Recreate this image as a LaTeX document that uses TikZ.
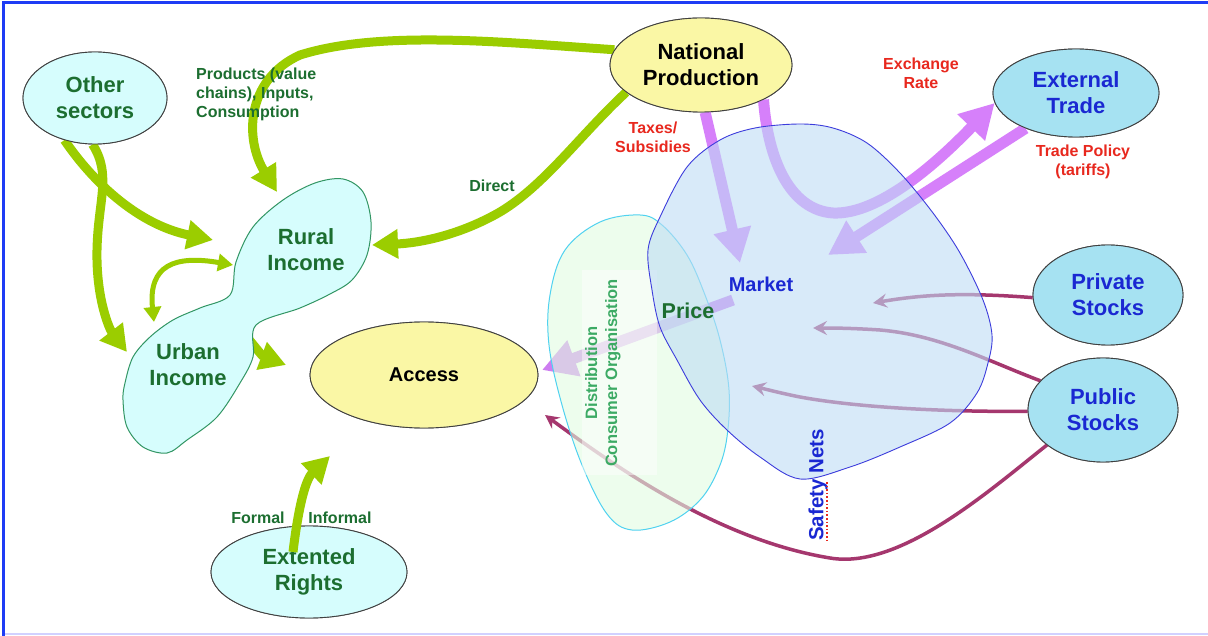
\documentclass[tikz,border=0pt]{standalone}
\usepackage{fontspec}
\setmainfont{Liberation Sans}
\usetikzlibrary{arrows.meta,shapes.geometric}
\definecolor{dgreen}{RGB}{28,110,48}
\definecolor{lgreen}{RGB}{60,170,100}
\definecolor{tred}{RGB}{232,40,30}
\definecolor{tblue}{RGB}{26,40,210}
\definecolor{garrow}{RGB}{155,205,0}
\definecolor{parrow}{RGB}{214,128,250}
\definecolor{pricearrow}{RGB}{205,125,240}
\definecolor{marrow}{RGB}{165,55,110}
\definecolor{cyanfill}{RGB}{214,253,253}
\definecolor{bluefill}{RGB}{166,226,242}
\definecolor{yelfill}{RGB}{250,247,165}
\definecolor{mktfill}{RGB}{190,220,245}
\definecolor{mktline}{RGB}{60,60,220}
\definecolor{distfill}{RGB}{225,252,225}
\definecolor{distline}{RGB}{80,210,240}
\definecolor{frameblue}{RGB}{30,60,245}
\definecolor{incline}{RGB}{50,150,100}
\begin{document}
\begin{tikzpicture}[x=1pt,y=-1pt,
  ell/.style={ellipse, draw=black!75, line width=0.9pt, inner sep=0pt, align=center,
     font=\bfseries\fontsize{22}{26}\selectfont},
  lbl/.style={font=\bfseries\fontsize{16}{19}\selectfont, align=center, inner sep=0pt},
  big/.style={font=\bfseries\fontsize{22}{26}\selectfont, align=center, inner sep=0pt},
  garr/.style={draw=garrow, line width=9pt, -{Triangle[width=28pt,length=26pt]}},
  gdbl/.style={draw=garrow, line width=5pt, {Triangle[width=17pt,length=15pt]}-{Triangle[width=17pt,length=15pt]}},
  parr/.style={draw=parrow, line width=11pt, -{Triangle[width=36pt,length=34pt]}},
  marr/.style={draw=marrow, line width=3.5pt, -{Stealth[width=14pt,length=14pt,inset=5pt]}}
]
\useasboundingbox (0,0) rectangle (1208,636);
\fill[white] (0,0) rectangle (1208,636);
\draw[blue!18, line width=2pt] (3,634) -- (1208,634);
\draw[frameblue, line width=3pt] (3,636) -- (3,2.5) -- (1208,2.5);

% named free ends
\coordinate (ruralTop) at (277,192);
\coordinate (ruralE) at (372,245);
\coordinate (ruralW) at (213,240);
\coordinate (urbanN) at (127,352);
\coordinate (ruralL) at (233,265);
\coordinate (urbanT) at (154,322);
\coordinate (neck) at (238,327);
\coordinate (accNW) at (286,365);
\coordinate (accS) at (330,456);
\coordinate (mktTop) at (740,263);
\coordinate (mktNE) at (828,255);
\coordinate (mktSrc) at (733,300);
\coordinate (accE) at (542,370);
\coordinate (accSE) at (545,415);
\coordinate (mktP) at (873,303);
\coordinate (mktQ) at (813,328);
\coordinate (mktR) at (752,386);

% nodes (defined first, drawn again on top later)
\path
  (95,98) node[ell, fill=cyanfill, minimum width=144pt, minimum height=92pt, text=dgreen] (os) {Other\\sectors}
  (701,65) node[ell, fill=yelfill, minimum width=182pt, minimum height=94pt] (np) {National\\Production}
  (1076,93) node[ell, fill=bluefill, minimum width=166pt, minimum height=88pt, text=tblue] (ext) {External\\Trade}
  (1108,295) node[ell, fill=bluefill, minimum width=150pt, minimum height=100pt, text=tblue] (priv) {Private\\Stocks}
  (1103,410) node[ell, fill=bluefill, minimum width=150pt, minimum height=104pt, text=tblue] (pub) {Public\\Stocks}
  (424,375) node[ell, fill=yelfill, minimum width=228pt, minimum height=106pt, font=\bfseries\fontsize{20}{24}\selectfont] (acc) {Access}
  (309,572) node[ell, fill=cyanfill, minimum width=196pt, minimum height=92pt, text=dgreen] (er) {Extented\\Rights};

% maroon arrows
\draw[marr] (priv.182) .. controls (960,292) and (920,295) .. (mktP);
\draw[marr] (pub.155) .. controls (990,362) and (940,335) .. (880,330) .. controls (850,328) and (830,328) .. (mktQ);
\draw[marr] (pub.181) .. controls (950,412) and (860,408) .. (800,397) .. controls (780,393) and (765,389) .. (mktR);
\draw[marr] (pub.212) .. controls (990,490) and (900,570) .. (830,558) .. controls (720,540) and (620,470) .. (accSE);

% purple arrows
\draw[parr] (np.275) -- (mktTop);
\draw[parr] (np.331) .. controls (768,160) and (790,210) .. (833,213) .. controls (880,215) and (940,160) .. (ext.187);
\draw[parr] (ext.215) -- (mktNE);
\draw[draw=pricearrow, line width=11pt, -{Triangle[width=36pt,length=34pt]}] (mktSrc) -- (accE);

% green arrows
\draw[garr] (np.170) .. controls (500,42) and (380,30) .. (300,55) .. controls (245,80) and (245,140) .. (ruralTop);
\draw[garr] (np.200) .. controls (580,135) and (545,185) .. (500,212) .. controls (460,235) and (420,243) .. (ruralE);
\draw[garr] (os.234) .. controls (95,185) and (140,225) .. (ruralW);
\draw[garr] (os.267) .. controls (112,175) and (98,200) .. (97,250) .. controls (96,300) and (110,330) .. (urbanN);
\draw[gdbl] (urbanT) .. controls (148,265) and (175,255) .. (ruralL);
\draw[garr] (neck) .. controls (250,340) and (262,356) .. (accNW);

% redraw nodes on top of connector starts
\path
  (95,98) node[ell, fill=cyanfill, minimum width=144pt, minimum height=92pt, text=dgreen] (os2) {Other\\sectors}
  (701,65) node[ell, fill=yelfill, minimum width=182pt, minimum height=94pt] (np2) {National\\Production}
  (1076,93) node[ell, fill=bluefill, minimum width=166pt, minimum height=88pt, text=tblue] (ext2) {External\\Trade}
  (1108,295) node[ell, fill=bluefill, minimum width=150pt, minimum height=100pt, text=tblue] (priv2) {Private\\Stocks}
  (1103,410) node[ell, fill=bluefill, minimum width=150pt, minimum height=104pt, text=tblue] (pub2) {Public\\Stocks}
  (424,375) node[ell, fill=yelfill, minimum width=228pt, minimum height=106pt, font=\bfseries\fontsize{20}{24}\selectfont] (acc2) {Access}
  (309,572) node[ell, fill=cyanfill, minimum width=196pt, minimum height=92pt, text=dgreen] (er2) {Extented\\Rights};

% distribution blob
\path[fill=distfill, fill opacity=0.6, draw=distline, line width=1pt]
  plot[smooth cycle, tension=0.6] coordinates {(640,215) (662,225) (687,255) (705,295) (720,340) (729,390) (727,437) (718,470) (700,500) (670,522) (632,530) (607,514) (582,465) (562,405) (549,345) (550,295) (565,250) (600,222)};
\fill[white, fill opacity=0.45] (582,270) rectangle (657,475);

% market blob
\path[fill=mktfill, fill opacity=0.6, draw=mktline, line width=0.9pt]
  plot[smooth cycle, tension=0.55] coordinates {(800,124) (833,128) (867,143) (900,173) (933,213) (960,253) (983,300) (992,335) (988,363) (977,393) (950,423) (900,447) (850,467) (800,479) (760,457) (727,430) (700,400) (677,360) (660,327) (652,290) (648,250) (660,217) (687,167) (720,140) (755,128)};

% rural / urban income blob
\path[fill=cyanfill, draw=incline, line width=1pt]
  plot[smooth cycle, tension=0.55] coordinates {(230,295) (236,262) (253,227) (283,200) (315,183) (343,179) (363,192) (371,222) (367,255) (352,280) (330,294) (300,308) (256,325) (253,357) (240,383) (217,417) (187,440) (167,453) (143,447) (127,427) (123,400) (125,383) (133,357) (150,337) (173,320) (200,308)};

% texts
\node[big, text=dgreen] (rural) at (306,250) {Rural\\Income};
\node[big, text=dgreen] (urban) at (188,365) {Urban\\Income};
\node[font=\bfseries\fontsize{16.5}{20}\selectfont, text=lgreen, align=center, rotate=90, inner sep=0pt] (dist) at (603,373) {Distribution\\Consumer Organisation};
\node[font=\bfseries\fontsize{20}{24}\selectfont, text=tblue, inner sep=0pt] (market) at (761,284) {Market};
\node[font=\bfseries\fontsize{21.5}{24}\selectfont, text=dgreen, inner sep=0pt] (price) at (688,311) {Price};
\node[font=\bfseries\fontsize{20.5}{24}\selectfont, text=tblue, rotate=90, inner sep=0pt] (safety) at (818,485) {Safety Nets};
\draw[tred, line width=1.6pt, dotted] (827,482) -- (827,540);

\node[lbl, text=dgreen, align=left, anchor=north west] (products) at (196,68) {Products (value\\chains), Inputs,\\Consumption};
\node[lbl, text=dgreen] (direct) at (492,186) {Direct};
\node[lbl, text=tred] (taxes) at (653,137) {Taxes/\\Subsidies};
\node[lbl, text=tred] (exch) at (921,73) {Exchange\\Rate};
\node[lbl, text=tred] (tpol) at (1083,162) {Trade Policy\\(tariffs)};
\node[lbl, text=dgreen] (formal) at (258,518) {Formal};
\node[lbl, text=dgreen] (informal) at (340,518) {Informal};

% rights -> access drawn on top
\draw[garr] ([shift={(-16,-20)}]er2.center) .. controls (298,510) and (305,480) .. (accS);
\end{tikzpicture}
\end{document}
